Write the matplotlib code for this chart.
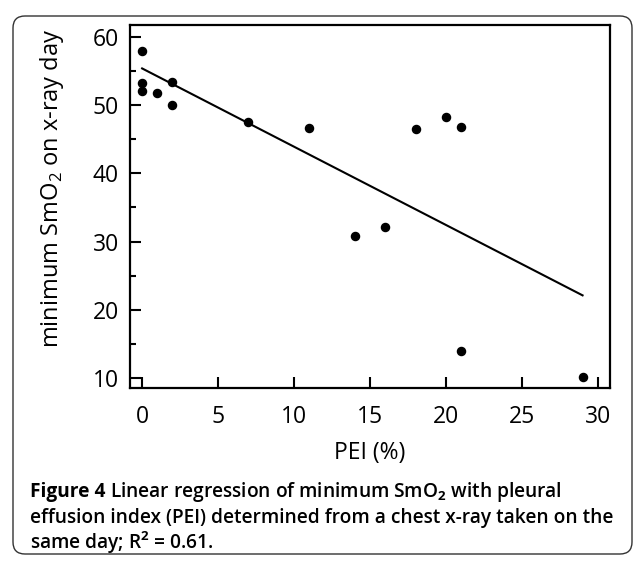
import numpy as np
import matplotlib
matplotlib.use("Agg")
import matplotlib.pyplot as plt
from matplotlib.patches import FancyBboxPatch
from matplotlib.transforms import IdentityTransform

plt.rcParams["font.family"] = ["Open Sans", "DejaVu Sans"]
plt.rcParams["mathtext.fontset"] = "custom"
plt.rcParams["mathtext.rm"] = "Open Sans"
plt.rcParams["mathtext.bf"] = "Open Sans:bold"

# PEI (%) vs minimum SmO2 on x-ray day
pei = [0, 0, 0, 1, 2, 2, 7, 11, 14, 16, 18, 20, 21, 21, 29]
smo2 = [58.0, 53.3, 52.1, 51.8, 53.4, 50.0, 47.6, 46.6, 30.8, 32.2, 46.5, 48.2, 46.8, 13.9, 10.1]

# regression line
fit_x = [0, 29]
fit_y = [55.4, 22.1]

xticks = [0, 5, 10, 15, 20, 25, 30]
yticks = [10, 20, 30, 40, 50, 60]

fig = plt.figure(figsize=(6.34, 5.64), dpi=100)
ax = fig.add_axes([0.205, 0.312, 0.757, 0.644])

ax.plot(fit_x, fit_y, color="black", lw=1.5)
ax.scatter(pei, smo2, s=34, color="black", zorder=3)

ax.set_xlim(-0.8, 30.8)
ax.set_ylim(8.5, 61.8)
ax.set_xticks(xticks)
ax.set_yticks(yticks)
ax.set_yticks([15, 25, 35, 45, 55], minor=True)
ax.tick_params(direction="in", length=8, width=1.5, labelsize=16.5, pad=8)
ax.tick_params(axis="x", pad=12)
ax.tick_params(axis="y", which="minor", direction="in", length=4, width=1.5)
for s in ax.spines.values():
    s.set_linewidth(1.6)

ax.set_xlabel("PEI (%)", fontsize=16.5, va="center")
ax.xaxis.set_label_coords(0.5, -0.179)
ax.set_ylabel("minimum SmO$_2$ on x-ray day", fontsize=17, va="center")
ax.yaxis.set_label_coords(-0.163, 0.551)

# caption
cap_size = 13.8
x0, y0 = 30 / 634, 1 - 497 / 564
t = fig.text(x0, y0, "Figure 4 ", fontsize=cap_size, fontweight="bold")
fig.canvas.draw()
bb = t.get_window_extent()
fig.text(bb.x1 / 634, y0, "Linear regression of minimum SmO$_\\mathbf{2}$ with pleural",
         fontsize=cap_size, fontweight="semibold")
fig.text(x0, y0 - 26 / 564, "effusion index (PEI) determined from a chest x-ray taken on the",
         fontsize=cap_size, fontweight="semibold")
fig.text(x0, y0 - 52 / 564, "same day; R$^\\mathbf{2}$ = 0.61.",
         fontsize=cap_size, fontweight="semibold")

# rounded frame
frame = FancyBboxPatch((13, 10), 619, 556 - 10 - 8, boxstyle="round,pad=0,rounding_size=12",
                       transform=IdentityTransform(), fill=False, ec="#333333", lw=1.0)
fig.patches.append(frame)

fig.savefig("out.png", dpi=100)
